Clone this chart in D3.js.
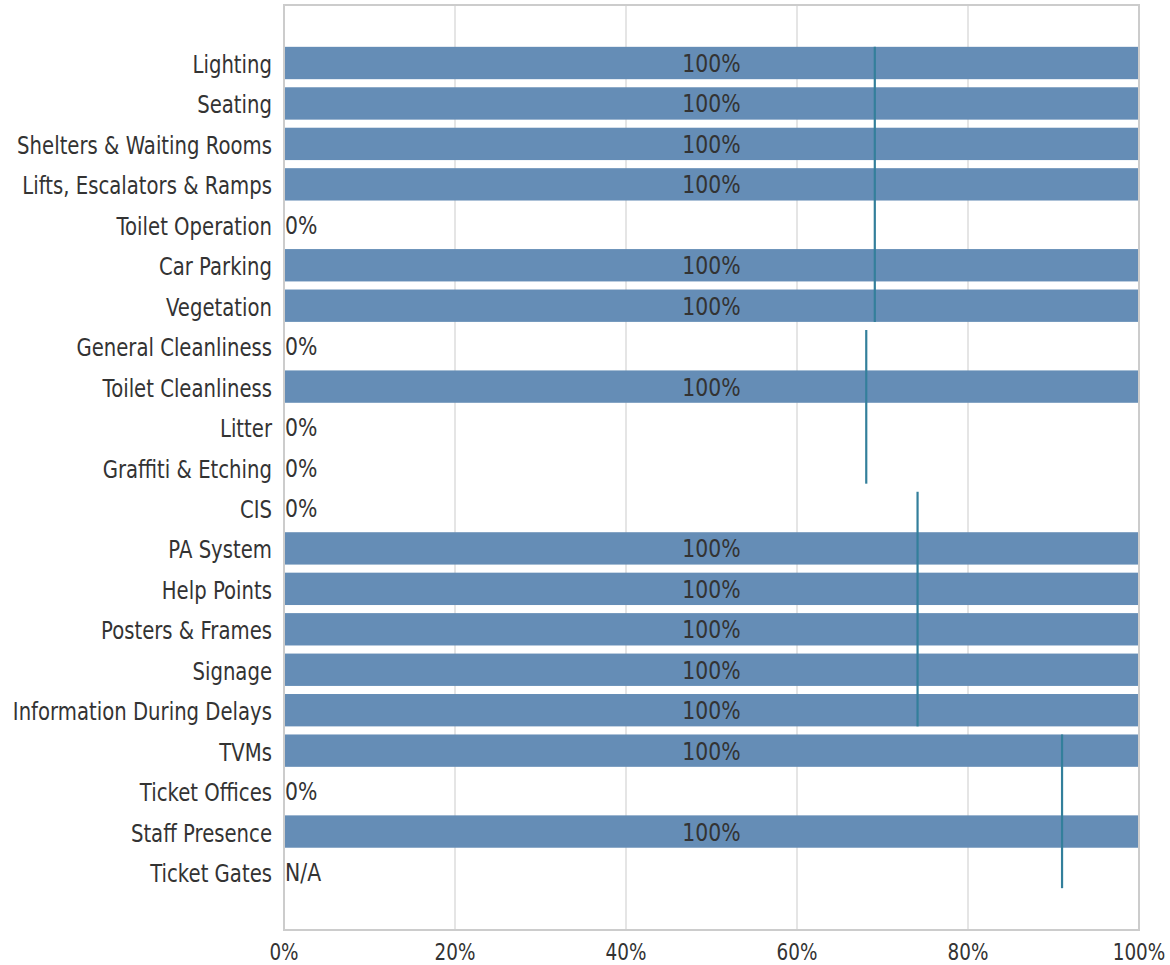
<!DOCTYPE html>
<html><head><meta charset="utf-8">
<script src="https://cdn.jsdelivr.net/npm/d3@7"></script>
<style>html,body{margin:0;padding:0;background:#fff;}</style>
</head><body>
<svg id="chart" width="1170" height="965"></svg>
<script>
const categories = ["Lighting","Seating","Shelters & Waiting Rooms","Lifts, Escalators & Ramps","Toilet Operation","Car Parking","Vegetation","General Cleanliness","Toilet Cleanliness","Litter","Graffiti & Etching","CIS","PA System","Help Points","Posters & Frames","Signage","Information During Delays","TVMs","Ticket Offices","Staff Presence","Ticket Gates"];
const values = [100,100,100,100,0,100,100,0,100,0,0,0,100,100,100,100,100,100,0,100,null];
const valueLabels = ["100%","100%","100%","100%","0%","100%","100%","0%","100%","0%","0%","0%","100%","100%","100%","100%","100%","100%","0%","100%","N/A"];
const groupFirst = ["Lighting","General Cleanliness","CIS","TVMs"];
const groupLast = ["Vegetation","Graffiti & Etching","Information During Delays","Ticket Gates"];
const groupScores = [69.1, 68.1, 74.1, 91.0];
const xTicks = [0,20,40,60,80,100];

const svg = d3.select("#chart");
const L = 284, R = 1139, T = 5, B = 930;
const FONT = "DejaVu Sans, sans-serif";

const x = d3.scaleLinear().domain([0,100]).range([L,R]);
const y = d3.scaleBand().domain(categories).range([T,B]).paddingInner(0.2).paddingOuter(1.034);

// grid
svg.append("g").selectAll("line").data(xTicks).join("line")
  .attr("x1", d=>x(d)).attr("x2", d=>x(d)).attr("y1", T).attr("y2", B)
  .attr("stroke", "#dcdcdc").attr("stroke-width", 1.5);

// bars
svg.append("g").selectAll("rect").data(categories).join("rect")
  .attr("x", x(0)).attr("y", d=>y(d))
  .attr("width", (d,i)=> values[i] ? x(values[i]) - x(0) : 0)
  .attr("height", y.bandwidth())
  .attr("fill", "#658db6");

// frame
svg.append("rect").attr("x", L).attr("y", T).attr("width", R-L).attr("height", B-T)
  .attr("fill","none").attr("stroke","#cccccc").attr("stroke-width",2);

function stext(g, tx, ty, txt, anchor, size, color, sx){
  g.append("text").attr("transform", `translate(${tx},${ty}) scale(${sx},1)`)
   .attr("text-anchor", anchor).attr("font-family", FONT).attr("font-size", size)
   .attr("fill", color).text(txt);
}

// bar labels
const lg = svg.append("g");
categories.forEach((c,i)=>{
  const cy = y(c) + y.bandwidth()/2;
  if (values[i] === 100) stext(lg, (x(0)+x(100))/2, cy+9, valueLabels[i], "middle", 24, "#333", 0.85);
  else stext(lg, x(0)+1, cy+9, valueLabels[i], "start", 24, "#333", 0.85);
});

// group lines
groupScores.forEach((s,i)=>{
  svg.append("line").attr("x1", x(s)).attr("x2", x(s))
    .attr("y1", y(groupFirst[i])).attr("y2", y(groupLast[i]) + y.bandwidth())
    .attr("stroke", "#337f9b").attr("stroke-width", 2.2);
});

// y labels
const yg = svg.append("g");
categories.forEach(c=>{
  stext(yg, L-12, y(c)+y.bandwidth()/2+10, c, "end", 24, "#333", 0.82);
});

// x tick labels
const xg = svg.append("g");
xTicks.forEach(t=>{
  stext(xg, x(t), 960, t+"%", "middle", 23, "#333", 0.8);
});
</script>
</body></html>
